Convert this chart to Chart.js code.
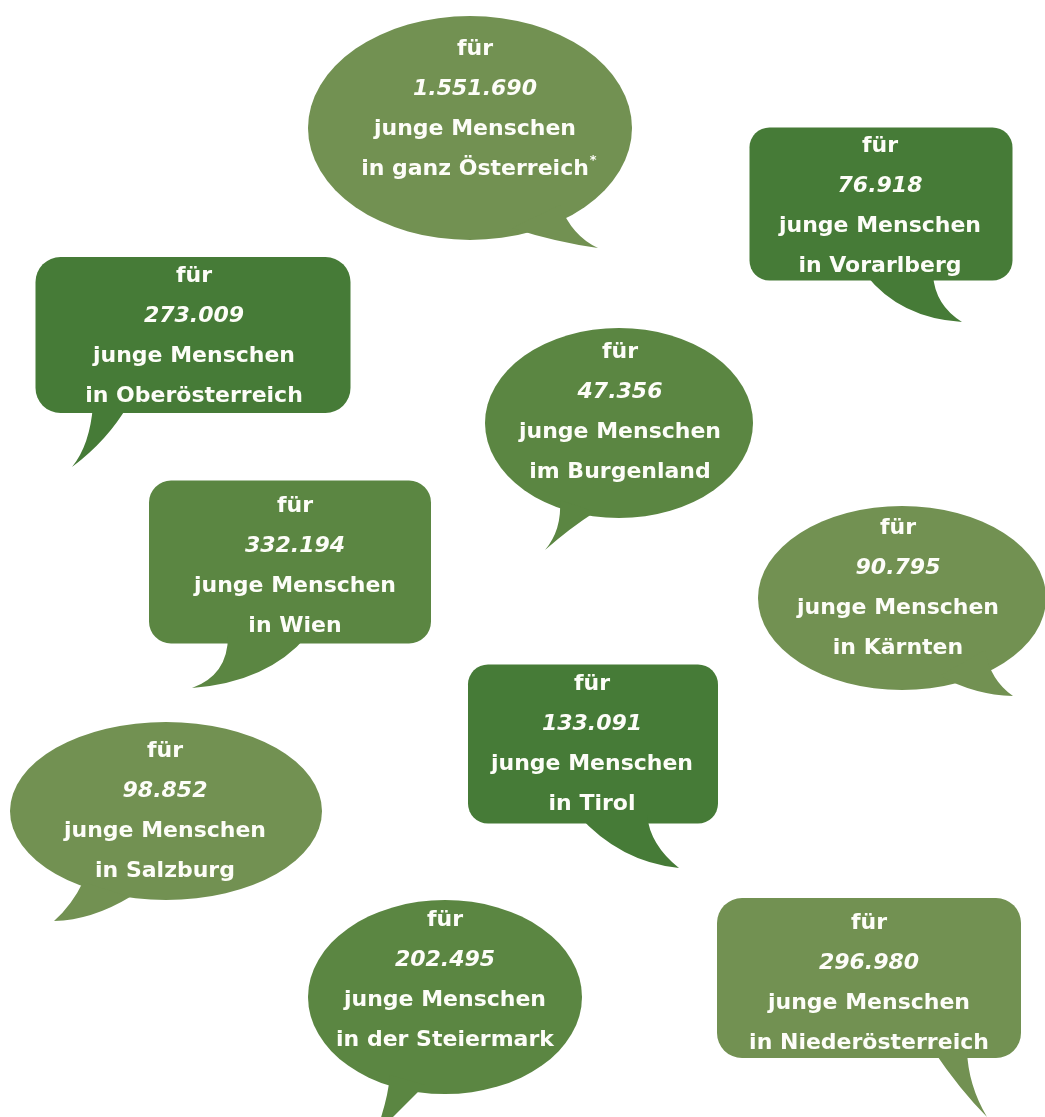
<!DOCTYPE html>
<html>
<head>
<meta charset="utf-8">
<script src="https://cdn.jsdelivr.net/npm/chart.js@4"></script>
<style>
  html, body { margin: 0; padding: 0; background: #fff; }
  #wrap { width: 1045px; height: 1117px; }
</style>
</head>
<body>
<div id="wrap"><canvas id="bubbles" width="1045" height="1117"></canvas></div>
<script>
// Daten: junge Menschen je Bundesland
const places = ['in ganz Österreich', 'in Vorarlberg', 'in Oberösterreich', 'im Burgenland', 'in Wien',
                'in Kärnten', 'in Tirol', 'in Salzburg', 'in der Steiermark', 'in Niederösterreich'];
const youngPeople = [1551690, 76918, 273009, 47356, 332194, 90795, 133091, 98852, 202495, 296980];
const footnotes = ['*', '', '', '', '', '', '', '', '', ''];
const lineFor = 'für';
const lineWho = 'junge Menschen';

// Layout der Sprechblasen (Position, Größe, Schwanz) - nur Gestaltung
const LIGHT = '#729152', MID = '#5b8642', DARK = '#467b37';
const layout = [
    { shape: 'ellipse', cx: 470, cy: 128, w: 324, h: 224, color: LIGHT, tx: 475, ty: 49,
      tail: [560, 205, 572, 236, 598, 248, 555, 242, 512, 228] },
    { shape: 'rect', cx: 881, cy: 204, w: 263, h: 153, r: 20, color: DARK, tx: 880, ty: 146,
      tail: [866, 275, 900, 318, 962, 322, 935, 305, 933, 275] },
    { shape: 'rect', cx: 193, cy: 335, w: 315, h: 156, r: 25, color: DARK, tx: 194, ty: 276,
      tail: [93, 405, 90, 445, 72, 467, 108, 440, 128, 405] },
    { shape: 'ellipse', cx: 619, cy: 423, w: 268, h: 190, color: MID, tx: 620, ty: 352,
      tail: [560, 500, 562, 530, 545, 550, 570, 528, 595, 512] },
    { shape: 'rect', cx: 290, cy: 562, w: 282, h: 163, r: 22, color: MID, tx: 295, ty: 506,
      tail: [228, 636, 228, 675, 192, 688, 268, 682, 307, 636] },
    { shape: 'ellipse', cx: 902, cy: 598, w: 288, h: 184, color: LIGHT, tx: 898, ty: 528,
      tail: [985, 650, 990, 680, 1013, 696, 975, 695, 940, 676] },
    { shape: 'rect', cx: 593, cy: 744, w: 250, h: 159, r: 20, color: DARK, tx: 592, ty: 684,
      tail: [578, 815, 620, 862, 679, 868, 650, 845, 647, 815] },
    { shape: 'ellipse', cx: 166, cy: 811, w: 312, h: 178, color: LIGHT, tx: 165, ty: 751,
      tail: [83, 882, 72, 905, 54, 921, 92, 920, 130, 897] },
    { shape: 'ellipse', cx: 445, cy: 997, w: 274, h: 194, color: MID, tx: 445, ty: 920,
      tail: [390, 1075, 388, 1100, 375, 1135, 410, 1100, 425, 1085] },
    { shape: 'rect', cx: 869, cy: 978, w: 304, h: 160, r: 25, color: LIGHT, tx: 869, ty: 923,
      tail: [933, 1050, 960, 1090, 987, 1117, 968, 1085, 967, 1050] }
];

const FONT = '"DejaVu Sans", Verdana, sans-serif';
const LINE_STEP = 40;

function formatNumber(n) {
    return String(n).replace(/\B(?=(\d{3})+(?!\d))/g, '.');
}

const speechBubbles = {
    id: 'speechBubbles',
    afterDatasetsDraw(chart) {
        const ctx = chart.ctx;
        const xs = chart.scales.x, ys = chart.scales.y;
        const px = v => xs.getPixelForValue(v);
        const py = v => ys.getPixelForValue(v);
        const sx = Math.abs(px(1) - px(0));
        const sy = Math.abs(py(1) - py(0));
        const meta = chart.getDatasetMeta(0);

        meta.data.forEach((pt, i) => {
            const b = layout[i];
            const w = b.w * sx, h = b.h * sy;
            ctx.save();
            ctx.fillStyle = b.color;

            // Blase
            ctx.beginPath();
            if (b.shape === 'ellipse') {
                ctx.ellipse(pt.x, pt.y, w / 2, h / 2, 0, 0, Math.PI * 2);
            } else {
                ctx.roundRect(pt.x - w / 2, pt.y - h / 2, w, h, b.r * sx);
            }
            ctx.fill();

            // Schwanz
            const t = b.tail;
            ctx.beginPath();
            ctx.moveTo(px(t[0]), py(t[1]));
            ctx.quadraticCurveTo(px(t[2]), py(t[3]), px(t[4]), py(t[5]));
            ctx.quadraticCurveTo(px(t[6]), py(t[7]), px(t[8]), py(t[9]));
            ctx.closePath();
            ctx.fill();

            // Text
            const x = px(b.tx);
            const y0 = py(b.ty);
            ctx.fillStyle = '#fdfdf8';
            ctx.textAlign = 'center';
            ctx.textBaseline = 'middle';
            ctx.font = 'bold 22px ' + FONT;
            ctx.fillText(lineFor, x, y0);
            ctx.font = 'italic bold 22px ' + FONT;
            ctx.fillText(formatNumber(youngPeople[i]), x, y0 + LINE_STEP);
            ctx.font = 'bold 22px ' + FONT;
            ctx.fillText(lineWho, x, y0 + LINE_STEP * 2);
            ctx.fillText(places[i], x, y0 + LINE_STEP * 3);
            if (footnotes[i]) {
                const half = ctx.measureText(places[i]).width / 2;
                ctx.font = 'bold 13px ' + FONT;
                ctx.textAlign = 'left';
                ctx.fillText(footnotes[i], x + half + 1, y0 + LINE_STEP * 3 - 8);
            }
            ctx.restore();
        });
    }
};

new Chart(document.getElementById('bubbles'), {
    type: 'scatter',
    data: {
        labels: places,
        datasets: [{
            label: 'junge Menschen',
            data: layout.map(b => ({ x: b.cx, y: b.cy })),
            pointRadius: 0,
            pointHoverRadius: 0
        }]
    },
    options: {
        responsive: false,
        animation: false,
        layout: { padding: 0 },
        events: [],
        plugins: {
            legend: { display: false },
            tooltip: { enabled: false }
        },
        scales: {
            x: { type: 'linear', min: 0, max: 1045, display: false },
            y: { type: 'linear', min: 0, max: 1117, reverse: true, display: false }
        }
    },
    plugins: [speechBubbles]
});
</script>
</body>
</html>
